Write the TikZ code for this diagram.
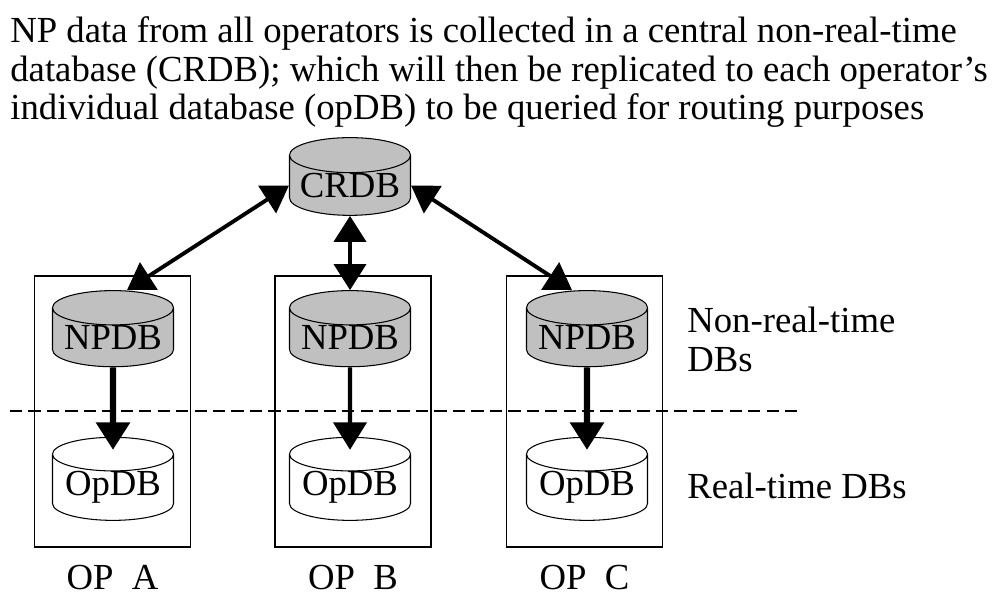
\documentclass[tikz,border=0pt]{standalone}
\usepackage{fontspec}
\setmainfont{Liberation Serif}
\usetikzlibrary{shapes.geometric,arrows.meta}
\definecolor{dbgray}{RGB}{192,192,192}
\begin{document}
\begin{tikzpicture}[
        font=\fontsize{20.9}{21.9}\selectfont,
        db/.style={cylinder, shape border rotate=90, draw, line width=0.6pt, aspect=0.35,
            minimum width=2.42cm, minimum height=1.42cm, inner sep=0pt},
        nrtdb/.style={db, fill=dbgray},
        rtdb/.style={db, fill=white},
        opbox/.style={draw, line width=1pt, minimum width=3.12cm, minimum height=5.42cm},
        sync/.style={{Triangle[length=0.52cm,width=0.64cm]}-{Triangle[length=0.52cm,width=0.64cm]}, line width=2.2pt},
        feed/.style={-{Triangle[length=0.55cm,width=0.66cm]}, line width=3.5pt}
    ]
        \useasboundingbox (0,0) rectangle (19.9,-11.92);
        \node[anchor=north west, align=left, inner sep=0pt] (title) at (0.2,-0.335)
            {NP data from all operators is collected in a central non-real-time\\
             database (CRDB); which will then be replicated to each operator's\\
             individual database (opDB) to be queried for routing purposes};
        % operator boxes
        \node[opbox] (boxa) at (2.25,-8.23) {};
        \node[opbox] (boxb) at (7.06,-8.23) {};
        \node[opbox] (boxc) at (11.69,-8.23) {};
        \node (opa) at (2.25,-11.56) {OP~~A};
        \node (opb) at (7.06,-11.56) {OP~~B};
        \node (opc) at (11.69,-11.56) {OP~~C};
        \draw[dashed, line width=1.1pt, dash pattern=on 7pt off 3.5pt] (0.2,-8.22) -- (16,-8.22);
        % databases
        \node[nrtdb] (crdb) at (7,-3.71) {CRDB};
        \node[nrtdb] (npa) at (2.26,-6.75) {NPDB};
        \node[nrtdb] (npb) at (7,-6.75) {NPDB};
        \node[nrtdb] (npc) at (11.74,-6.75) {NPDB};
        \node[rtdb] (dba) at (2.26,-9.75) {OpDB};
        \node[rtdb] (dbb) at (7,-9.75) {OpDB};
        \node[rtdb] (dbc) at (11.74,-9.75) {OpDB};
        % arrows
        \draw[sync] (crdb.west) -- ([xshift=0.28cm]npa.north);
        \draw[sync] (crdb.south) -- (npb.north);
        \draw[sync] (crdb.east) -- ([xshift=-0.3cm]npc.north);
        \draw[feed] (npa.south) -- ([yshift=-0.26cm]dba.north);
        \draw[feed, line width=2.5pt] (npb.south) -- ([yshift=-0.26cm]dbb.north);
        \draw[feed] (npc.south) -- ([yshift=-0.26cm]dbc.north);
        \node[anchor=north west, align=left, inner sep=0pt] (nrtlabel) at (13.74,-6.14) {Non-real-time\\DBs};
        \node[anchor=base west, inner sep=0pt] (rtlabel) at (13.74,-9.96) {Real-time DBs};
    \end{tikzpicture}
\end{document}
